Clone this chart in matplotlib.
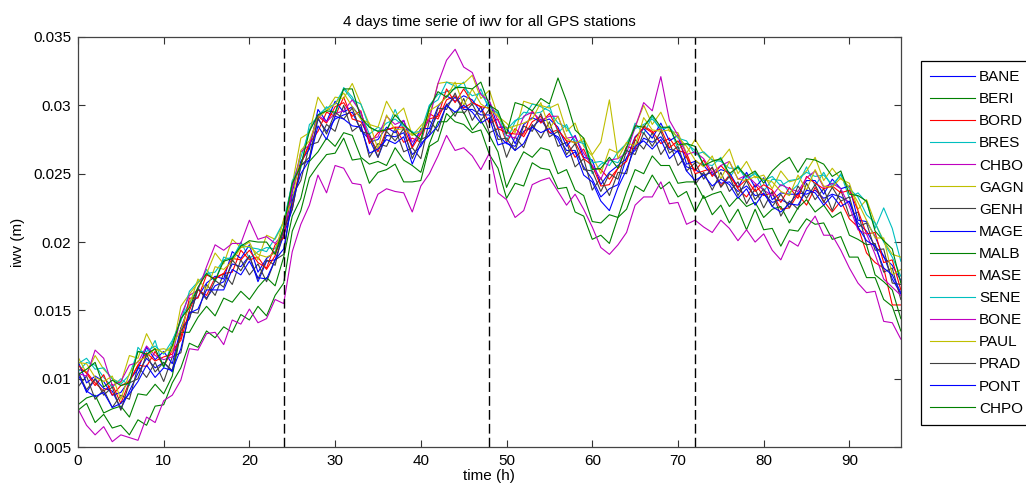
import numpy as np
import matplotlib
matplotlib.use("Agg")
import matplotlib.pyplot as plt
from matplotlib.ticker import FixedLocator

# --- data (iwv in units of 0.1 mm, one value per hour) ---
hours = list(range(97))
day_marks = [24, 48, 72]

stations = ["BANE", "BERI", "BORD", "BRES", "CHBO", "GAGN", "GENH", "MAGE",
            "MALB", "MASE", "SENE", "BONE", "PAUL", "PRAD", "PONT", "CHPO"]

bane = [106, 90, 100, 93, 91, 78, 91, 104, 115, 108,
        112, 105, 137, 144, 166, 159, 168, 171, 184, 182,
        190, 171, 186, 187, 205, 224, 256, 260, 290, 281,
        290, 293, 295, 282, 275, 262, 278, 277, 280, 264,
        270, 281, 294, 300, 306, 297, 297, 293, 293, 278,
        272, 270, 281, 284, 290, 280, 277, 267, 267, 255,
        246, 233, 239, 242, 262, 267, 276, 273, 277, 268,
        266, 255, 253, 249, 251, 243, 244, 237, 241, 234,
        235, 229, 231, 228, 236, 235, 238, 232, 235, 233,
        229, 214, 208, 197, 190, 173, 162]
beri = [77, 82, 68, 74, 64, 66, 59, 70, 66, 80,
        81, 97, 108, 126, 123, 135, 130, 138, 134, 147,
        143, 153, 146, 161, 170, 208, 223, 247, 256, 264,
        265, 276, 260, 261, 243, 251, 253, 257, 244, 244,
        245, 270, 274, 294, 288, 286, 280, 282, 264, 254,
        232, 243, 241, 258, 254, 253, 239, 240, 222, 219,
        202, 205, 199, 218, 224, 241, 237, 249, 239, 244,
        233, 237, 222, 234, 220, 227, 214, 224, 209, 224,
        209, 210, 197, 209, 208, 217, 213, 214, 202, 204,
        189, 189, 174, 174, 158, 153, 135]
bord = [107, 105, 97, 91, 96, 82, 98, 110, 109, 120,
        109, 121, 128, 150, 165, 161, 174, 177, 178, 194,
        187, 189, 180, 190, 208, 227, 257, 272, 281, 295,
        292, 306, 290, 288, 277, 266, 282, 284, 273, 276,
        273, 294, 290, 304, 307, 298, 302, 299, 287, 290,
        273, 283, 277, 288, 292, 280, 282, 274, 262, 268,
        254, 253, 246, 254, 270, 268, 285, 281, 272, 276,
        267, 265, 250, 252, 254, 241, 249, 239, 233, 242,
        234, 236, 224, 225, 235, 227, 240, 230, 222, 230,
        217, 211, 192, 185, 181, 154, 154]
bres = [105, 112, 110, 101, 94, 100, 95, 123, 116, 128,
        108, 127, 143, 156, 166, 180, 171, 189, 187, 200,
        188, 193, 196, 195, 210, 245, 254, 286, 291, 299,
        293, 313, 306, 294, 279, 284, 281, 297, 282, 281,
        273, 300, 308, 310, 312, 317, 300, 312, 296, 295,
        274, 288, 295, 294, 295, 300, 280, 286, 272, 274,
        250, 257, 260, 258, 268, 287, 279, 292, 281, 285,
        268, 272, 267, 257, 256, 262, 247, 256, 245, 251,
        237, 246, 245, 236, 242, 255, 241, 251, 240, 250,
        232, 236, 229, 210, 225, 210, 186]
chbo = [78, 66, 59, 65, 54, 59, 57, 55, 72, 68,
        84, 88, 99, 122, 121, 133, 134, 125, 143, 140,
        151, 141, 144, 158, 155, 193, 213, 227, 249, 236,
        256, 254, 243, 242, 220, 235, 239, 237, 236, 222,
        241, 250, 263, 278, 267, 269, 263, 253, 265, 236,
        231, 218, 223, 242, 245, 247, 237, 227, 235, 224,
        211, 196, 191, 198, 207, 227, 233, 233, 244, 228,
        229, 213, 216, 211, 207, 216, 210, 201, 209, 200,
        206, 194, 187, 201, 197, 210, 219, 205, 205, 194,
        181, 170, 163, 164, 142, 141, 129]
gagn = [116, 104, 117, 107, 100, 97, 117, 115, 133, 121,
        122, 120, 153, 162, 170, 177, 192, 184, 202, 196,
        200, 187, 205, 202, 214, 242, 276, 280, 306, 296,
        306, 305, 316, 301, 286, 284, 303, 292, 298, 278,
        285, 292, 316, 317, 316, 316, 322, 305, 311, 292,
        287, 280, 303, 301, 300, 298, 301, 281, 287, 270,
        263, 250, 268, 265, 272, 284, 300, 286, 295, 281,
        280, 265, 275, 265, 260, 260, 268, 250, 259, 247,
        249, 239, 252, 244, 246, 252, 262, 245, 254, 246,
        243, 224, 231, 214, 201, 191, 189]
genh = [94, 102, 85, 92, 79, 88, 85, 109, 101, 112,
        98, 116, 119, 149, 148, 169, 161, 177, 169, 187,
        176, 184, 171, 187, 191, 234, 245, 271, 273, 286,
        281, 300, 281, 286, 262, 272, 270, 283, 266, 269,
        261, 289, 281, 301, 292, 305, 289, 299, 280, 283,
        262, 277, 269, 286, 276, 288, 270, 273, 255, 261,
        238, 247, 234, 251, 250, 275, 268, 280, 264, 273,
        256, 263, 242, 251, 238, 251, 237, 244, 228, 239,
        225, 237, 219, 230, 224, 243, 231, 239, 223, 238,
        219, 222, 198, 199, 178, 181, 158]
mage = [113, 97, 102, 98, 88, 90, 99, 107, 123, 114,
        120, 111, 137, 154, 160, 170, 175, 173, 193, 188,
        198, 178, 188, 193, 204, 237, 259, 268, 297, 288,
        303, 295, 299, 291, 273, 275, 284, 280, 289, 270,
        283, 283, 299, 307, 303, 307, 304, 295, 303, 284,
        284, 272, 286, 291, 288, 290, 284, 270, 278, 262,
        260, 242, 251, 256, 261, 277, 283, 276, 287, 274,
        278, 257, 259, 256, 249, 253, 251, 240, 251, 240,
        247, 231, 236, 235, 235, 245, 245, 235, 246, 239,
        241, 216, 215, 204, 189, 183, 172]
malb = [81, 86, 88, 75, 78, 80, 72, 89, 88, 96,
        89, 102, 134, 134, 145, 153, 146, 159, 156, 164,
        158, 167, 174, 168, 189, 219, 232, 259, 266, 276,
        270, 280, 278, 262, 257, 259, 256, 269, 260, 256,
        251, 272, 288, 288, 295, 295, 282, 289, 278, 266,
        240, 254, 266, 262, 269, 267, 250, 253, 238, 234,
        215, 214, 220, 218, 237, 253, 250, 263, 256, 256,
        243, 244, 244, 232, 235, 237, 226, 233, 226, 229,
        218, 224, 226, 214, 225, 231, 222, 227, 218, 222,
        205, 202, 198, 176, 171, 165, 144]
mase = [110, 104, 95, 103, 88, 95, 98, 110, 119, 113,
        116, 118, 130, 159, 159, 176, 173, 177, 188, 187,
        194, 185, 181, 198, 203, 242, 257, 272, 292, 287,
        299, 302, 292, 296, 272, 280, 282, 284, 284, 269,
        279, 290, 292, 312, 302, 312, 302, 299, 298, 283,
        280, 279, 279, 296, 287, 294, 282, 274, 273, 261,
        256, 241, 242, 254, 259, 276, 284, 280, 283, 269,
        274, 262, 252, 260, 248, 256, 249, 240, 246, 237,
        242, 238, 229, 240, 232, 248, 243, 239, 241, 236,
        238, 223, 206, 207, 185, 187, 165]
sene = [111, 115, 107, 108, 100, 96, 103, 120, 120, 124,
        118, 128, 142, 164, 171, 177, 178, 187, 189, 198,
        196, 195, 193, 203, 215, 243, 262, 282, 293, 298,
        301, 312, 304, 301, 284, 281, 287, 290, 285, 280,
        281, 300, 304, 317, 314, 313, 307, 309, 299, 294,
        282, 289, 291, 301, 299, 296, 287, 284, 274, 272,
        258, 259, 256, 266, 272, 283, 286, 290, 283, 284,
        276, 274, 264, 266, 260, 259, 254, 254, 247, 250,
        245, 248, 241, 245, 246, 251, 248, 249, 242, 249,
        239, 233, 220, 214, 200, 189, 175]
bone = [104, 102, 121, 115, 95, 98, 110, 112, 124, 117,
        114, 116, 146, 161, 165, 182, 198, 194, 199, 199,
        216, 202, 204, 199, 207, 238, 266, 271, 293, 288,
        294, 296, 304, 295, 275, 277, 292, 286, 289, 273,
        280, 290, 316, 333, 341, 328, 324, 308, 303, 289,
        278, 276, 292, 295, 289, 292, 292, 276, 277, 265,
        256, 246, 260, 261, 265, 284, 302, 296, 321, 289,
        278, 264, 266, 261, 251, 256, 259, 246, 249, 243,
        238, 234, 242, 239, 237, 247, 252, 240, 243, 239,
        226, 209, 206, 191, 173, 167, 161]
paul = [112, 111, 101, 98, 102, 85, 104, 113, 116, 122,
        119, 124, 136, 154, 173, 165, 182, 180, 186, 196,
        197, 191, 189, 192, 217, 230, 267, 274, 291, 296,
        301, 309, 299, 290, 287, 268, 293, 282, 283, 278,
        281, 296, 300, 306, 317, 300, 312, 301, 297, 292,
        283, 285, 287, 290, 302, 283, 292, 276, 272, 276,
        264, 273, 304, 261, 273, 270, 291, 282, 281, 282,
        277, 270, 260, 255, 263, 246, 259, 246, 245, 248,
        246, 244, 237, 234, 249, 238, 253, 241, 240, 247,
        240, 229, 216, 203, 203, 176, 180]
prad = [105, 92, 100, 88, 94, 77, 97, 100, 118, 105,
        112, 106, 135, 144, 166, 158, 172, 167, 187, 179,
        190, 173, 187, 183, 210, 224, 256, 262, 291, 279,
        295, 290, 298, 281, 279, 262, 281, 274, 283, 261,
        275, 278, 298, 297, 309, 294, 301, 289, 297, 275,
        276, 267, 285, 281, 294, 277, 281, 264, 272, 253,
        252, 237, 250, 246, 267, 264, 280, 270, 281, 265,
        270, 252, 258, 246, 255, 240, 248, 234, 245, 231,
        239, 226, 235, 225, 241, 232, 242, 229, 240, 230,
        233, 211, 214, 194, 195, 170, 169]
pont = [103, 91, 87, 90, 79, 82, 89, 98, 110, 101,
        108, 106, 122, 148, 151, 165, 165, 165, 180, 176,
        186, 174, 173, 187, 195, 230, 250, 260, 285, 275,
        292, 290, 285, 284, 265, 268, 275, 272, 277, 257,
        272, 278, 285, 300, 295, 300, 295, 287, 291, 271,
        273, 267, 272, 284, 280, 283, 275, 262, 266, 249,
        244, 230, 223, 240, 253, 270, 274, 268, 275, 261,
        267, 252, 245, 249, 241, 246, 242, 232, 239, 227,
        236, 226, 222, 228, 227, 238, 236, 227, 234, 226,
        230, 211, 201, 197, 181, 176, 163]
chpo = [103, 107, 112, 94, 99, 95, 97, 120, 118, 122,
        109, 124, 144, 152, 167, 177, 172, 186, 188, 197,
        201, 200, 200, 191, 211, 243, 256, 281, 293, 296,
        295, 312, 312, 291, 284, 281, 282, 293, 286, 280,
        275, 298, 310, 306, 313, 313, 312, 317, 300, 296,
        279, 302, 300, 296, 305, 301, 320, 303, 282, 276,
        253, 254, 262, 254, 269, 285, 284, 293, 284, 284,
        271, 272, 270, 256, 259, 261, 250, 255, 248, 252,
        243, 252, 258, 262, 251, 261, 260, 257, 248, 252,
        235, 234, 230, 208, 201, 195, 170]

series = [bane, beri, bord, bres, chbo, gagn, genh, mage,
          malb, mase, sene, bone, paul, prad, pont, chpo]

# old matlab line colour order
colors = [(0, 0, 1), (0, 0.5, 0), (1, 0, 0), (0, 0.75, 0.75),
          (0.75, 0, 0.75), (0.75, 0.75, 0), (0.25, 0.25, 0.25)]

plt.rcParams['font.family'] = ['Liberation Sans', 'DejaVu Sans']

fig = plt.figure(figsize=(10.26, 4.93), dpi=100)
ax = fig.add_axes([0.076, 0.093, 0.802, 0.832])

t = np.array(hours)
for i, (name, vals) in enumerate(zip(stations, series)):
    iwv = np.array(vals) / 1e4  # 0.1 mm -> m
    ax.plot(t, iwv, color=colors[i % len(colors)], lw=0.8, label=name)

# day separators
for d in day_marks:
    ax.axvline(d, color='black', lw=1.0, linestyle=(0, (7, 3)))

ax.set_xlim(0, 96)
ax.set_ylim(0.005, 0.035)
ax.xaxis.set_major_locator(FixedLocator(range(0, 91, 10)))
yt = [0.005, 0.01, 0.015, 0.02, 0.025, 0.03, 0.035]
ax.set_yticks(yt)
ax.set_yticklabels(["0.005", "0.01", "0.015", "0.02", "0.025", "0.03", "0.035"])
ax.tick_params(direction='in', top=True, right=True, length=5, width=0.8,
               labelsize=11, colors='#333333', labelcolor='black')
ax.tick_params(axis='y', pad=5)
ax.tick_params(axis='x', pad=5)
for s in ax.spines.values():
    s.set_color('#444444')
    s.set_linewidth(0.9)

ax.set_title("4 days time serie of iwv for all GPS stations", fontsize=11, pad=8)
ax.set_xlabel("time (h)", fontsize=11, labelpad=1)
ax.set_ylabel("iwv (m)", fontsize=11, labelpad=6)

# legend sits past the right edge like the original, box runs off the figure
leg = ax.legend(loc='upper left', bbox_to_anchor=(921 / 1026, 1 - 61 / 493),
                bbox_transform=fig.transFigure, borderaxespad=0,
                fancybox=False, framealpha=1, edgecolor='black',
                fontsize=11, handlelength=2.95, handletextpad=0.25,
                labelspacing=0.53, borderpad=0.6)
leg.get_frame().set_linewidth(0.9)

fig.savefig("out.png", dpi=100)
